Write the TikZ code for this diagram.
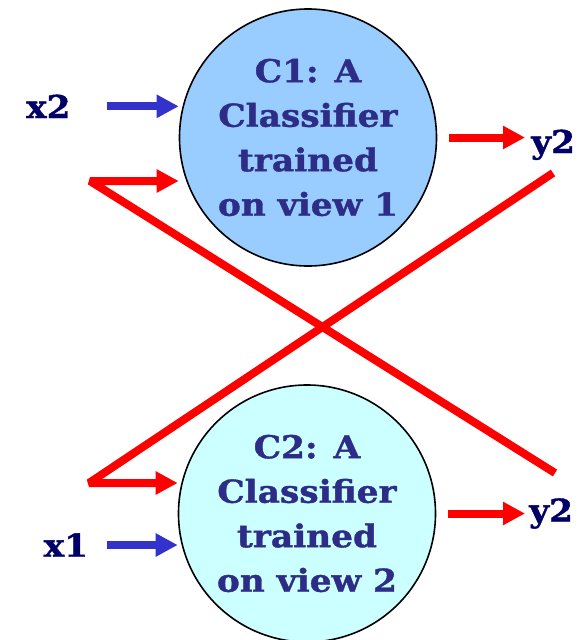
\documentclass[tikz,border=0pt]{standalone}
\usepackage{fontspec}
\setmainfont{DejaVu Serif}[BoldFeatures={FakeStretch=1.09, FakeBold=1.2}]
\usepackage{xcolor}
\usetikzlibrary{arrows.meta, positioning}
\definecolor{viewblue}{RGB}{153,204,255}
\definecolor{viewcyan}{RGB}{204,255,255}
\definecolor{textnavy}{RGB}{45,45,135}
\definecolor{labelnavy}{RGB}{0,0,102}
\definecolor{inblue}{RGB}{51,51,204}
\definecolor{swapred}{RGB}{255,0,0}

\begin{document}
\begin{tikzpicture}[x=1pt, y=-1pt,
  classifier/.style={circle, draw=black, line width=1.6pt, minimum size=257pt, inner sep=0pt,
    align=center, text=textnavy, font=\fontsize{31.5}{44.5}\selectfont\bfseries},
  varlabel/.style={inner sep=0pt, text=labelnavy, font=\fontsize{31.5}{36}\selectfont\bfseries},
  feed/.style={line width=8pt, -{Triangle[length=22pt, width=22pt]}},
  swapline/.style={swapred, line width=8pt, line join=bevel, -{Triangle[length=22pt, width=22pt]}}]
  \useasboundingbox (0,0) rectangle (581,640);

  % the two classifiers
  \node[classifier, fill=viewblue] (c1) at (308,137.5) {C1: A\\Classifier\\trained\\on view 1};
  \node[classifier, fill=viewcyan] (c2) at (307,513.5) {C2: A\\Classifier\\trained\\on view 2};

  % inputs and outputs
  \node[varlabel, anchor=base west] (x2) at (26,118) {x2};
  \node[varlabel, anchor=base west] (x1) at (43.5,556.7) {x1};
  \node[varlabel, anchor=base west] (y2up) at (531,153) {y2};
  \node[varlabel, anchor=base west] (y2low) at (529,521.7) {y2};

  \draw[feed, inblue] ([xshift=36pt]x2.east) -- (c1.west |- x2.east);
  \draw[feed, inblue] ([xshift=19pt]x1.east) -- (c2.west |- x1.east);
  \draw[feed, swapred] ([xshift=12pt]c1.east) -- ([xshift=-6pt]y2up.west |- c1.east);
  \draw[feed, swapred] ([xshift=12pt]c2.east) -- ([xshift=-4pt]y2low.west |- c2.east);

  % labels swapped across the views
  \coordinate (bend1) at (90,181);
  \coordinate (bend2) at (89,483);
  \coordinate (tail1) at (555,473);
  \coordinate (tail2) at (553,173);
  \draw[swapline] (tail1) -- (bend1) -- (c1.west |- bend1);
  \draw[swapline] (tail2) -- (bend2) -- (c2.west |- bend2);
\end{tikzpicture}
\end{document}
